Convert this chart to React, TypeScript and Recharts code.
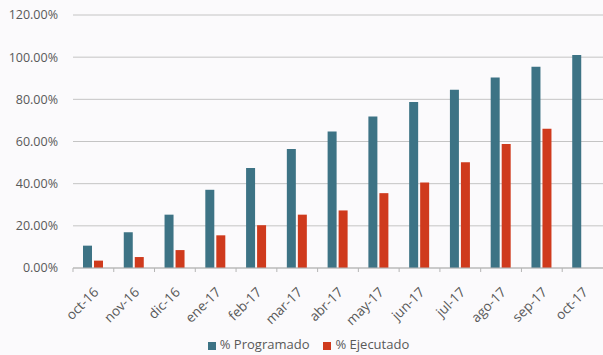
import { BarChart, Bar, XAxis, YAxis, CartesianGrid, Legend } from "recharts";

const months = [
  "oct-16", "nov-16", "dic-16", "ene-17", "feb-17", "mar-17", "abr-17",
  "may-17", "jun-17", "jul-17", "ago-17", "sep-17", "oct-17",
];
const programado = [10.6, 16.9, 25.3, 37.1, 47.4, 56.5, 64.7, 71.8, 78.7, 84.5, 90.4, 95.4, 101];
const ejecutado = [3.5, 5.2, 8.5, 15.5, 20.3, 25.3, 27.3, 35.5, 40.6, 50.2, 58.8, 66.0, null];
const yTicks = [0, 20, 40, 60, 80, 100, 120];
const seriesOrder = ["% Programado", "% Ejecutado"];

const data = months.map((month, i) => ({
  month,
  prog: programado[i],
  ejec: ejecutado[i],
}));

const BLUE = "#3d7385";
const RED = "#cf3a1d";
const TEXT = "#595959";
const FONT = "'Open Sans', sans-serif";

function MonthTick({ x, y, payload }: any) {
  const tx = x + 6;
  const ty = y + 17;
  return (
    <g>
      <line x1={x - 20.4} y1={y - 8} x2={x - 20.4} y2={y - 4} stroke="#b5b5b5" />
      <text
        x={tx}
        y={ty}
        transform={`rotate(-45, ${tx}, ${ty})`}
        textAnchor="end"
        fill={TEXT}
        fontSize={13.5}
        fontFamily={FONT}
      >
        {payload.value}
      </text>
    </g>
  );
}

export default function App() {
  return (
    <div style={{ position: "absolute", left: 0, top: 0, width: 603, height: 355, background: "#fbfafc" }}>
      <BarChart
        width={603}
        height={355}
        data={data}
        margin={{ top: 15, right: 0, bottom: 11, left: 0 }}
        barGap={2}
      >
        <CartesianGrid vertical={false} stroke="#c4c4c4" />
        <XAxis
          dataKey="month"
          interval={0}
          tickLine={false}
          axisLine={{ stroke: "#b5b5b5" }}
          tick={<MonthTick />}
          height={58}
        />
        <YAxis
          width={73}
          domain={[0, 120]}
          ticks={yTicks}
          tickLine={false}
          axisLine={false}
          tickMargin={9}
          tickFormatter={(v: number) => `${v.toFixed(2)}%`}
          tick={{ fill: TEXT, fontSize: 12.5, fontFamily: FONT }}
        />
        <Legend
          iconType="square"
          iconSize={8}
          itemSorter={(item: any) => seriesOrder.indexOf(item.value)}
          wrapperStyle={{ fontFamily: FONT, fontSize: 13, color: TEXT, bottom: 2, left: 12 }}
          formatter={(value: string) => (
            <span style={{ color: TEXT, paddingRight: value === seriesOrder[0] ? 4 : 0 }}>{value}</span>
          )}
        />
        <Bar dataKey="prog" name="% Programado" fill={BLUE} barSize={9} isAnimationActive={false} />
        <Bar dataKey="ejec" name="% Ejecutado" fill={RED} barSize={9} isAnimationActive={false} />
      </BarChart>
    </div>
  );
}
